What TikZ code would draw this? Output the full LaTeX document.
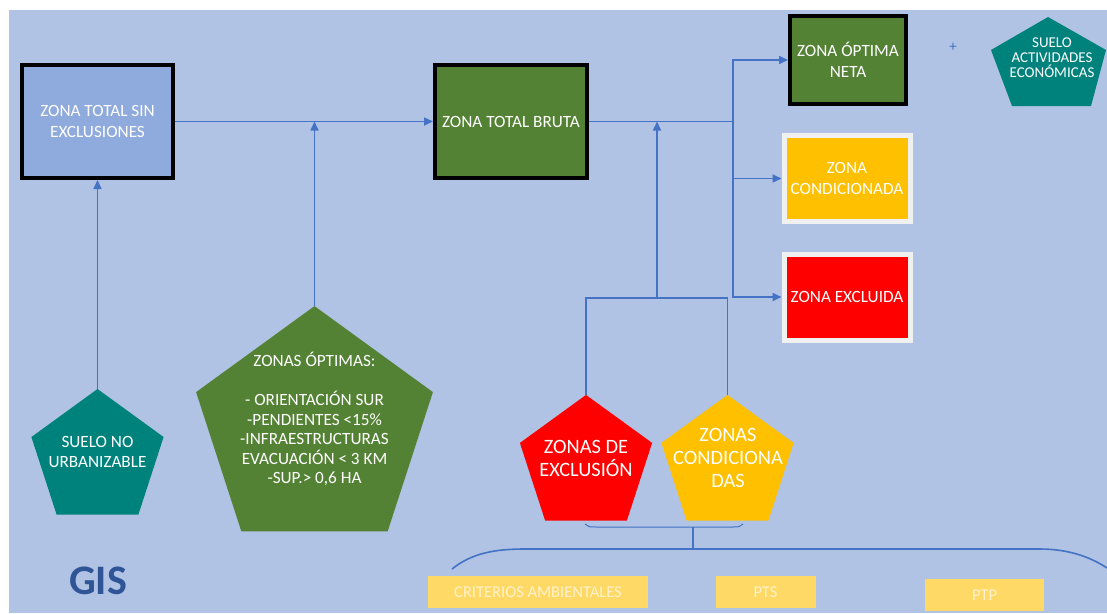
\documentclass[tikz,border=0pt]{standalone}
\usepackage{fontspec}
\setmainfont{Carlito}
\usetikzlibrary{arrows.meta,shapes.geometric}
\definecolor{bgblue}{HTML}{B0C3E4}
\definecolor{sinblue}{HTML}{8FAADC}
\definecolor{brutagreen}{HTML}{548235}
\definecolor{suelo}{HTML}{00827C}
\definecolor{condyellow}{HTML}{FFC000}
\definecolor{crityellow}{HTML}{FFD966}
\definecolor{crittext}{HTML}{FFF2CC}
\definecolor{lineblue}{HTML}{4472C4}
\definecolor{gisblue}{HTML}{2F5597}
\definecolor{rim}{HTML}{F0F0F0}

\begin{document}
\begin{tikzpicture}[x=1pt, y=-1pt,
	zbox/.style={draw, rectangle, inner sep=0pt, align=center, text=white, font=\fontsize{17.2}{20.5}\selectfont},
	pent/.style={regular polygon, regular polygon sides=5, inner sep=0pt},
	wtxt/.style={align=center, text=white, inner sep=0pt},
	link/.style={draw=lineblue, line width=1.6pt},
	arr/.style={link, -{Triangle[length=9pt, width=8pt]}},
	critbox/.style={fill=crityellow, text=crittext, minimum height=32pt, inner sep=0pt, font=\fontsize{16.5}{19}\selectfont}]
			%%%%% START %%%%%
			
			\useasboundingbox (0,0) rectangle (1107,613);
			\fill[bgblue] (9,10) rectangle (1107,613);
			
			% boxes
			\node[zbox, fill=sinblue, line width=4pt, minimum width=151pt, minimum height=113pt] (zsin) at (97.5,121.5) {ZONA TOTAL SIN\\EXCLUSIONES};
			\node[zbox, fill=brutagreen, line width=4pt, minimum width=152pt, minimum height=113pt] (zbruta) at (511,121.5) {ZONA TOTAL BRUTA};
			\node[zbox, fill=brutagreen, line width=4pt, minimum width=116pt, minimum height=88pt] (zneta) at (848,60) {ZONA ÓPTIMA\\NETA};
			\node[zbox, fill=condyellow, draw=rim, line width=5pt, minimum width=126pt, minimum height=86pt] (zcond) at (847,178.5) {ZONA\\CONDICIONADA};
			\node[zbox, fill=red, draw=rim, line width=5pt, minimum width=126pt, minimum height=86pt] (zexcl) at (847,297) {ZONA EXCLUIDA};
			
			% pentagons
			\node[pent, fill=suelo, minimum size=139pt] (snu) at (97.5,458.5) {};
			\node[wtxt, font=\fontsize{17.2}{20}\selectfont] (snu-t) at (97.5,452) {SUELO NO\\URBANIZABLE};
			
			\node[pent, fill=brutagreen, minimum size=249pt] (opt) at (314.5,430.6) {};
			\node[wtxt, font=\fontsize{17.2}{19.5}\selectfont] (opt-t) at (314.5,419) {ZONAS ÓPTIMAS:\\[19.5pt]- ORIENTACIÓN SUR\\-PENDIENTES <15\%\\-INFRAESTRUCTURAS\\EVACUACIÓN < 3 KM\\-SUP.> 0,6 HA};
			
			\node[pent, fill=red, minimum size=139pt] (excl) at (586,464.4) {};
			\node[wtxt, font=\fontsize{20.4}{23}\selectfont] (excl-t) at (586,458.5) {ZONAS DE\\EXCLUSIÓN};
			
			\node[pent, fill=condyellow, minimum size=139pt] (cond) at (727.5,464.4) {};
			\node[wtxt, font=\fontsize{20.4}{23}\selectfont] (cond-t) at (728,458) {ZONAS\\CONDICIONA\\DAS};
			
			\fill[suelo] (1048,17) -- (1106,50) -- (1091,106) -- (1012,106) -- (991,50) -- cycle;
			\node[wtxt, font=\fontsize{15}{15}\selectfont] (sae-t) at (1052,58) {SUELO\\ACTIVIDADES\\ECONÓMICAS};
			\node[text=lineblue, inner sep=0pt, font=\fontsize{15}{15}\selectfont] (plus) at (953,47) {+};
			
			% connectors
			\draw[arr] (snu.north) -- (zsin.south);
			\draw[arr] (zsin.east) -- (zbruta.west);
			\draw[arr] (opt.north) -- (opt.north |- zsin.east);
			
			\coordinate (jn) at (733,121.5);
			\draw[link] (zbruta.east) -- (jn);
			\draw[arr] (jn) |- (zneta.west);
			\draw[arr] (jn) |- (zcond.west);
			\draw[arr] (jn) |- (zexcl.west);
			
			\coordinate (jp) at (657,298);
			\draw[link] (excl.north) |- (jp) -| (cond.north);
			\draw[arr] (jp) -- (jp |- zbruta.east);
			
			% braces
			\coordinate (bs) at (693,527);
			\coordinate (bb) at (693,549);
			\draw[draw=lineblue, line width=1pt] (585,524) .. controls (588,527) .. (600,527) -- (730,527) .. controls (740,527) .. (743,524);
			\draw[link] (bs) -- (bb);
			\draw[link] (452,569) .. controls (472,553) and (495,549) .. (525,549) -- (1040,549) .. controls (1070,549) and (1092,558) .. (1107,568);
			
			% bottom
			\node[critbox, minimum width=220pt] (crit) at (538,592) {CRITERIOS AMBIENTALES};
			\node[critbox, minimum width=100pt] (pts) at (765.5,592) {PTS};
			\node[critbox, minimum width=119pt] (ptp) at (984.5,595) {PTP};
			
			\node[text=gisblue, inner sep=0pt, font=\fontsize{42}{42}\selectfont\bfseries] (gis) at (98,581) {GIS};
			
			%%%%% END %%%%%
		\end{tikzpicture}
\end{document}
